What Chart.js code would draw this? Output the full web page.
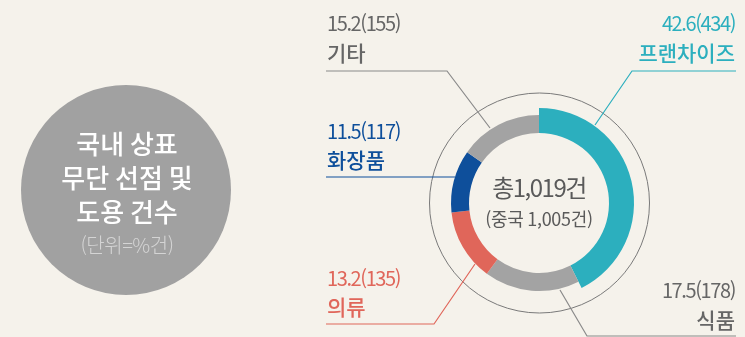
<!DOCTYPE html>
<html lang="ko">
<head>
<meta charset="utf-8">
<title>국내 상표 무단 선점 및 도용 건수</title>
<script src="https://cdn.jsdelivr.net/npm/chart.js@4"></script>
<style>
  html, body { margin: 0; padding: 0; background: #f5f2eb; }
  canvas { display: block; }
</style>
</head>
<body>
<canvas id="trademark" width="745" height="337"></canvas>
<script>
// 업종별 비중(%)과 건수
const categories = ['프랜차이즈', '식품', '의류', '화장품', '기타'];
const shares = [42.6, 17.5, 13.2, 11.5, 15.2];
const counts = [434, 178, 135, 117, 155];
const chinaTotal = 1005;

const sliceColors = ['#2cafbe', '#a3a3a3', '#e0665a', '#0e4f9b', '#a3a3a3'];
const textColors = ['#2cafbe', '#666666', '#e0665a', '#0e4f9b', '#666666'];

const FONT = '"Noto Sans CJK KR", "Noto Sans", sans-serif';
const fmt = n => n.toLocaleString('en-US');

// 라벨 위치와 지시선 경로 (캔버스 좌표)
const callouts = [
  { x: 735, align: 'right', numY: 23, nameY: 53, path: [[736, 71], [632, 71], [595, 125]] },
  { x: 735, align: 'right', numY: 290, nameY: 320, path: [[736, 336], [587, 336], [560, 290]] },
  { x: 327, align: 'left', numY: 278, nameY: 307, path: [[326, 324], [434, 324], [475, 264]] },
  { x: 327, align: 'left', numY: 131, nameY: 160, path: [[326, 177], [455, 177]] },
  { x: 327, align: 'left', numY: 23, nameY: 53, path: [[326, 71], [447, 71], [490, 128]] }
];

const decor = {
  id: 'decor',
  beforeDraw(chart) {
    const ctx = chart.ctx;
    ctx.save();
    ctx.fillStyle = '#f5f2eb';
    ctx.fillRect(0, 0, chart.width, chart.height);

    // 왼쪽 제목 원
    ctx.fillStyle = '#a1a1a1';
    ctx.beginPath();
    ctx.arc(126, 190, 105, 0, Math.PI * 2);
    ctx.fill();
    ctx.textAlign = 'center';
    ctx.textBaseline = 'middle';
    ctx.fillStyle = '#ffffff';
    ctx.font = '500 26px ' + FONT;
    ['국내 상표', '무단 선점 및', '도용 건수'].forEach((t, i) => {
      ctx.fillText(t, 127, 144 + i * 34);
    });
    ctx.fillStyle = '#d4d4d4';
    ctx.font = '300 20px ' + FONT;
    ctx.letterSpacing = '-0.5px';
    ctx.fillText('(단위=%건)', 127, 245);
    ctx.restore();
  },
  afterDatasetsUpdate(chart) {
    // 프랜차이즈 조각만 바깥으로 두껍게
    const arc = chart.getDatasetMeta(0).data[0];
    arc.outerRadius = arc.outerRadius + 7;
  },
  beforeDatasetsDraw(chart) {
    const ctx = chart.ctx;
    const arc = chart.getDatasetMeta(0).data[1];
    ctx.save();
    ctx.strokeStyle = '#7a7a7a';
    ctx.lineWidth = 1;
    ctx.beginPath();
    ctx.arc(arc.x + 0.5, arc.y, arc.outerRadius + 22, 0, Math.PI * 2);
    ctx.stroke();
    ctx.restore();
  },
  afterDatasetsDraw(chart) {
    const ctx = chart.ctx;
    const center = chart.getDatasetMeta(0).data[0];
    ctx.save();

    categories.forEach((name, i) => {
      const c = callouts[i];
      ctx.strokeStyle = i === 1 || i === 4 ? '#8a8a8a' : sliceColors[i];
      ctx.lineWidth = 1.2;
      ctx.beginPath();
      c.path.forEach(([px, py], k) => k ? ctx.lineTo(px, py) : ctx.moveTo(px, py));
      ctx.stroke();

      ctx.fillStyle = textColors[i];
      ctx.textAlign = c.align;
      ctx.textBaseline = 'middle';
      ctx.font = '400 20px ' + FONT;
      ctx.letterSpacing = '-1.4px';
      ctx.fillText(shares[i].toFixed(1) + '(' + counts[i] + ')', c.x, c.numY);
      ctx.font = '500 21px ' + FONT;
      ctx.letterSpacing = '0px';
      ctx.fillText(name, c.x, c.nameY);
    });

    // 가운데 합계
    const total = counts.reduce((a, b) => a + b, 0);
    ctx.textAlign = 'center';
    ctx.fillStyle = '#5a5a5a';
    ctx.font = '400 24px ' + FONT;
    ctx.letterSpacing = '-1.5px';
    ctx.fillText('총' + fmt(total) + '건', center.x, 188);
    ctx.font = '400 18px ' + FONT;
    ctx.letterSpacing = '-0.3px';
    ctx.fillText('(중국 ' + fmt(chinaTotal) + '건)', center.x, 219);
    ctx.restore();
  }
};

new Chart(document.getElementById('trademark'), {
  type: 'doughnut',
  data: {
    labels: categories,
    datasets: [{
      data: shares,
      backgroundColor: sliceColors,
      borderWidth: 0,
      hoverOffset: 0,
      clip: false
    }]
  },
  options: {
    responsive: false,
    animation: false,
    devicePixelRatio: 1,
    events: [],
    radius: 88,
    cutout: 70,
    layout: { padding: { left: 451, right: 118, top: 115, bottom: 46 } },
    plugins: {
      legend: { display: false },
      tooltip: { enabled: false }
    }
  },
  plugins: [decor]
});
</script>
</body>
</html>
